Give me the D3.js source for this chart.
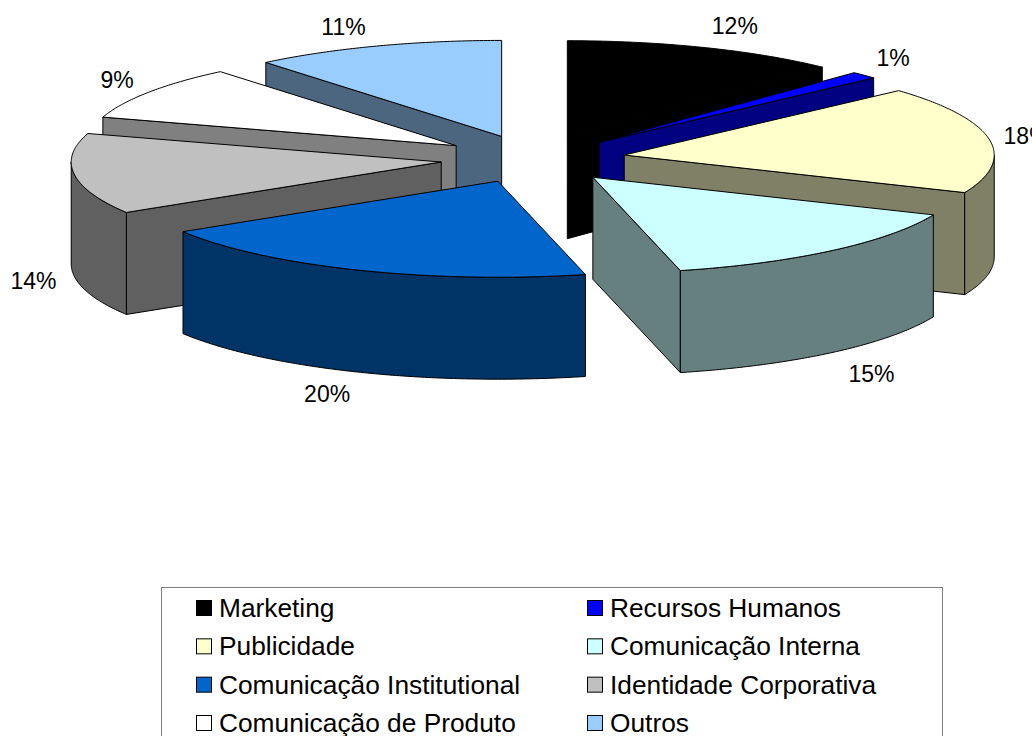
<!DOCTYPE html>
<html><head><meta charset="utf-8">
<script src="https://cdn.jsdelivr.net/npm/d3@7/dist/d3.min.js"></script>
<style>html,body{margin:0;padding:0;background:#fff;overflow:hidden}svg{display:block}text{font-family:"Liberation Sans",Arial,sans-serif;fill:#000}</style>
</head><body><svg id="c" width="1032" height="736"></svg>
<script>
const categories=["Marketing","Recursos Humanos","Publicidade","Comunicação Interna","Comunicação Institutional","Identidade Corporativa","Comunicação de Produto","Outros"];
const shares=[12.1,1.2,18.1,14.8,20.0,13.6,9.2,11.0];
const colors=["#000000","#0000ff","#ffffcc","#ccffff","#0066cc","#c0c0c0","#ffffff","#99ccff"];

const svg=d3.select("#c");
const cx=533,cy=159,rx=370,ry=96,depth=102,explode=0.25;
const labelNudgeX=[-2,-4,3,2,2,-6,5,5];
const labelNudgeY=[0,-1,0,3,0,2,0,3];
const X=d3.scaleLinear().domain([-1,1]).range([cx-rx,cx+rx]);
const Y=d3.scaleLinear().domain([-1,1]).range([cy+ry,cy-ry]);
const line=d3.line();
const half=c=>{const r=d3.rgb(c);return d3.rgb(r.r/2,r.g/2,r.b/2).formatHex();};

const slices=d3.pie().sort(null).value(d=>d).startAngle(0).endAngle(2*Math.PI)(shares).map((s,i)=>{
  const mid=(s.startAngle+s.endAngle)/2;
  const ax=X(explode*Math.sin(mid)), ay=Y(explode*Math.cos(mid));
  return {i,start:s.startAngle,end:s.endAngle,mid,ax,ay,value:s.value,color:colors[i]};
});
const pt=(s,a,dz=0)=>[s.ax+rx*Math.sin(a), s.ay-ry*Math.cos(a)+dz];
const arcPts=(s,a0,a1,dz=0)=>{
  const n=Math.max(2,Math.ceil((a1-a0)/0.01));
  return d3.range(n+1).map(k=>pt(s,a0+(a1-a0)*k/n,dz));
};
const order=d3.range(slices.length).sort((a,b)=>Math.cos(slices[b].mid)-Math.cos(slices[a].mid));
const g=svg.append("g").attr("stroke","#000").attr("stroke-width",1).attr("stroke-linejoin","round");
order.forEach(idx=>{
  const s=slices[idx], dark=half(s.color);
  const sg=g.append("g").attr("class","slice");
  const faces=[];
  if(Math.sin(s.start)<-1e-6) faces.push(s.start);
  if(Math.sin(s.end)>1e-6) faces.push(s.end);
  faces.forEach(a=>{
    const e=pt(s,a), ed=pt(s,a,depth);
    sg.append("path").attr("fill",dark).attr("d",line([[s.ax,s.ay],e,ed,[s.ax,s.ay+depth]])+"Z");
  });
  const a0=Math.max(s.start,Math.PI/2), a1=Math.min(s.end,3*Math.PI/2);
  if(a1>a0){
    sg.append("path").attr("fill",dark).attr("d",line(arcPts(s,a0,a1).concat(arcPts(s,a0,a1,depth).reverse()))+"Z");
  }
  sg.append("path").attr("fill",s.color).attr("d",line([[s.ax,s.ay]].concat(arcPts(s,s.start,s.end)))+"Z");
});

// percentage labels
slices.forEach(s=>{
  const o=pt(s,s.mid,Math.cos(s.mid)<0?depth:0);
  svg.append("text").attr("class","pct")
    .attr("x",o[0]+Math.sign(Math.sin(s.mid))*35-3*Math.cos(s.mid)+labelNudgeX[s.i])
    .attr("y",o[1]-Math.cos(s.mid)*23.5+8.5+labelNudgeY[s.i])
    .attr("text-anchor","middle").attr("font-size",23)
    .text(Math.round(s.value)+"%");
});

// legend
const lx=161.5,ly=587.5;
svg.append("rect").attr("x",lx).attr("y",ly).attr("width",781).attr("height",170).attr("fill","#fff").attr("stroke","#7f7f7f").attr("stroke-width",1);
const colX=d3.scaleOrdinal().domain([0,1]).range([196.5,587.5]);
const rowY=d3.scaleLinear().domain([0,3]).range([600.5,715.5]);
categories.forEach((c,i)=>{
  const col=i%2,row=Math.floor(i/2);
  svg.append("rect").attr("x",colX(col)).attr("y",rowY(row)).attr("width",15).attr("height",15).attr("fill",colors[i]).attr("stroke","#000").attr("stroke-width",1);
  svg.append("text").attr("x",colX(col)+22.5).attr("y",rowY(row)+16.5).attr("font-size",26.3).text(c);
});
</script></body></html>
